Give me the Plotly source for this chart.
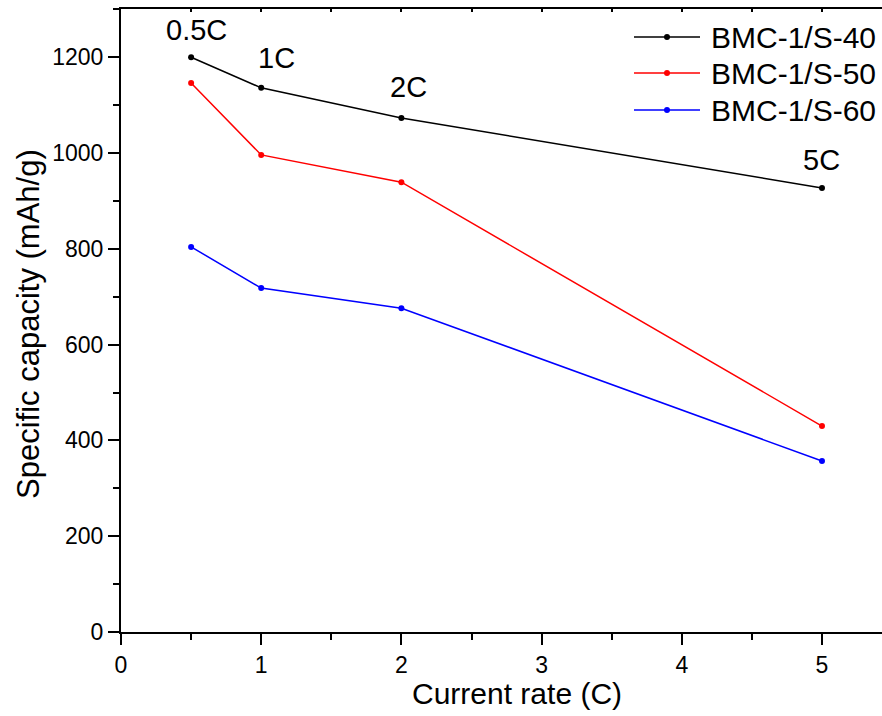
import plotly.graph_objects as go

# Rate capability data: discharge capacity at each C-rate
rate = [0.5, 1, 2, 5]
rate_labels = ["0.5C", "1C", "2C", "5C"]
cap_40 = [1200, 1136, 1073, 927]
cap_50 = [1146, 996, 939, 430]
cap_60 = [804, 718, 676, 357]

series_names = ["BMC-1/S-40", "BMC-1/S-50", "BMC-1/S-60"]
series_colors = ["#000000", "#ff0000", "#0000ff"]

FONT = "Arial, Liberation Sans, sans-serif"

W, H = 882, 716
ML, MR, MT, MB = 121, 0, 9, 84
PW, PH = W - ML - MR, H - MT - MB

fig = go.Figure()
for name, vals, col in zip(series_names, [cap_40, cap_50, cap_60], series_colors):
    fig.add_trace(go.Scatter(
        x=rate, y=vals, name=name, mode="lines+markers",
        line=dict(color=col, width=1.5),
        marker=dict(color=col, size=6),
        showlegend=False,
    ))

# transparent copy on the top axis so the mirrored frame with inward ticks is drawn
fig.add_trace(go.Scatter(
    x=rate, y=cap_40, xaxis="x2", mode="lines",
    line=dict(color="rgba(0,0,0,0)"), showlegend=False, hoverinfo="skip",
))

# rate labels above the top series
shifts = [(5, 27), (15, 30), (7, 31), (0, 28)]
for xv, yv, lab, (dx, dy) in zip(rate, cap_40, rate_labels, shifts):
    fig.add_annotation(
        x=xv, y=yv, text=lab, showarrow=False,
        xshift=dx, yshift=dy, font=dict(family=FONT, size=29, color="black"),
    )


# helpers converting pixel positions to paper fractions
def px_x(p):
    return (p - ML) / PW


def px_y(p):
    return (H - MB - p) / PH


# legend drawn as long line samples with a dot and a label
legend_rows = [37, 73, 110]
for name, col, ry in zip(series_names, series_colors, legend_rows):
    fig.add_shape(type="line", xref="paper", yref="paper",
                  x0=px_x(634), x1=px_x(700), y0=px_y(ry), y1=px_y(ry),
                  line=dict(color=col, width=1.5))
    fig.add_shape(type="circle", xref="paper", yref="paper",
                  x0=px_x(664), x1=px_x(670), y0=px_y(ry + 3), y1=px_y(ry - 3),
                  line=dict(color=col, width=0), fillcolor=col)
    fig.add_annotation(xref="paper", yref="paper", x=px_x(709), y=px_y(ry),
                       xanchor="left", yanchor="middle", showarrow=False,
                       text=name, font=dict(family=FONT, size=30, color="black"))

# axis titles
fig.add_annotation(xref="paper", yref="paper", x=px_x(517), y=px_y(693),
                   xanchor="center", yanchor="middle", showarrow=False,
                   text="Current rate (C)", font=dict(family=FONT, size=30, color="black"))
fig.add_annotation(xref="paper", yref="paper", x=px_x(28), y=px_y(324),
                   xanchor="center", yanchor="middle", showarrow=False, textangle=-90,
                   text="Specific capacity (mAh/g)", font=dict(family=FONT, size=31, color="black"))

xr = [0, 5.428]
fig.update_layout(
    width=W, height=H,
    margin=dict(l=ML, r=MR, t=MT, b=MB),
    paper_bgcolor="white", plot_bgcolor="white",
    font=dict(family=FONT, color="black"),
    showlegend=False,
    xaxis=dict(
        range=xr, tickmode="array", tickvals=[0, 1, 2, 3, 4, 5],
        showgrid=False, zeroline=False,
        showline=True, linecolor="black", linewidth=2,
        ticks="outside", ticklen=11, tickwidth=2, tickcolor="black",
        tickfont=dict(family=FONT, size=23),
        minor=dict(dtick=0.5, tick0=0, ticks="outside", ticklen=6, tickwidth=2, tickcolor="black"),
    ),
    xaxis2=dict(
        range=xr, overlaying="x", side="top", matches="x",
        showgrid=False, zeroline=False, showticklabels=False,
        showline=True, linecolor="black", linewidth=2,
        ticks="inside", ticklen=3, tickwidth=1.5, tickcolor="black",
        tickmode="array", tickvals=[0, 1, 2, 3, 4, 5],
        minor=dict(dtick=0.5, tick0=0, ticks="inside", ticklen=3, tickwidth=1.5, tickcolor="black"),
    ),
    yaxis=dict(
        range=[0, 1300.6], dtick=200, tick0=0,
        showgrid=False, zeroline=False,
        showline=True, linecolor="black", linewidth=2,
        ticks="outside", ticklen=11, tickwidth=2, tickcolor="black",
        tickfont=dict(family=FONT, size=23),
        minor=dict(dtick=100, tick0=0, ticks="outside", ticklen=6, tickwidth=2, tickcolor="black"),
    ),
)

fig.write_html("out.html")
